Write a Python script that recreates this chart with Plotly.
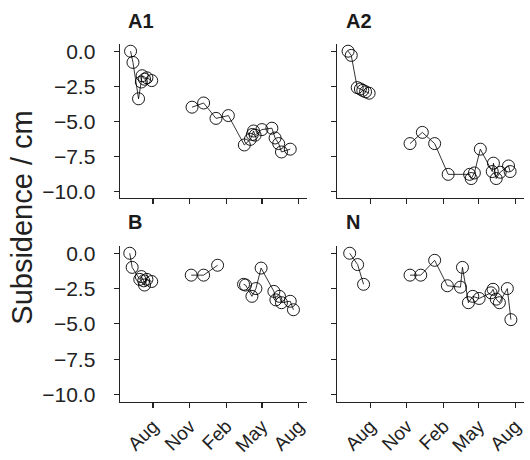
import plotly.graph_objects as go

# ---- data (None = break in campaign) ----
a1_dates = ["2016-06-06", "2016-06-12", "2016-06-26", "2016-07-03", "2016-07-05", "2016-07-11",
            "2016-07-17", "2016-07-29", None,
            "2016-11-07", "2016-12-06", "2017-01-06", "2017-02-06", "2017-03-18", "2017-04-02",
            "2017-04-07", "2017-04-10", "2017-04-14", "2017-05-01", "2017-05-26", "2017-06-03",
            "2017-06-12", "2017-06-19", "2017-07-11"]
a1_vals = [0.0, -0.8, -3.4, -2.2, -1.75, -2.0, -1.9, -2.1, None,
           -4.0, -3.7, -4.8, -4.6, -6.7, -6.3, -5.95, -5.7, -6.0, -5.6, -5.5, -6.2,
           -6.6, -7.2, -7.0]

a2_dates = ["2016-06-06", "2016-06-14", "2016-06-29", "2016-07-07", "2016-07-13", "2016-07-20",
            "2016-07-29", None,
            "2016-11-09", "2016-12-10", "2017-01-10", "2017-02-13", "2017-04-08", "2017-04-12",
            "2017-04-20", "2017-05-05", "2017-06-04", "2017-06-07", "2017-06-14", "2017-06-24",
            "2017-07-15", "2017-07-19"]
a2_vals = [0.0, -0.3, -2.6, -2.7, -2.8, -2.9, -3.0, None,
           -6.6, -5.8, -6.6, -8.8, -8.8, -9.1, -8.7, -7.0, -8.6, -8.0, -9.1, -8.65,
           -8.2, -8.6]

b_dates = ["2016-06-04", "2016-06-10", "2016-06-29", "2016-07-03", "2016-07-09", "2016-07-11",
           "2016-07-17", "2016-07-29", None,
           "2016-11-05", "2016-12-06", "2017-01-10", None,
           "2017-03-16", "2017-03-21", "2017-04-06", "2017-04-16", "2017-04-29", "2017-05-31",
           "2017-06-05", "2017-06-14", "2017-06-19", "2017-07-11", "2017-07-19"]
b_vals = [0.0, -1.0, -1.85, -1.65, -1.95, -2.25, -1.85, -2.0, None,
          -1.55, -1.55, -0.85, None,
          -2.2, -2.25, -3.05, -2.5, -1.05, -2.7, -3.3, -3.05, -3.5, -3.4, -4.0]

n_dates = ["2016-06-10", "2016-06-30", "2016-07-15", None,
           "2016-11-09", "2016-12-06", "2017-01-10", "2017-02-11", "2017-03-16", "2017-03-21",
           "2017-04-05", "2017-04-16", "2017-05-02", "2017-06-01", "2017-06-06", "2017-06-14",
           "2017-06-22", "2017-07-12", "2017-07-21"]
n_vals = [0.0, -0.8, -2.2, None,
          -1.55, -1.55, -0.5, -2.3, -2.4, -1.0, -3.5, -3.05, -3.2, -2.8, -2.55, -3.25,
          -3.5, -2.5, -4.7]

panels = ["A1", "A2", "B", "N"]
series = [(a1_dates, a1_vals), (a2_dates, a2_vals), (b_dates, b_vals), (n_dates, n_vals)]

x_tickvals = ["2016-08-01", "2016-11-01", "2017-02-01", "2017-05-01", "2017-08-01"]
x_ticktext = ["Aug", "Nov", "Feb", "May", "Aug"]
y_tickvals = [0.0, -2.5, -5.0, -7.5, -10.0]
y_ticktext = ["0.0", "\u22122.5", "\u22125.0", "\u22127.5", "\u221210.0"]

W, H = 530, 460
xdom = [[120 / W, 308 / W], [338 / W, 525 / W]]
ydom = [[1 - 197 / H, 1 - 40 / H], [1 - 404.5 / H, 1 - 246 / H]]

FONT = "Liberation Sans, Arial, Helvetica, sans-serif"
fig = go.Figure()

for i, (name, (d, v)) in enumerate(zip(panels, series)):
    row, col = divmod(i, 2)
    idx = "" if i == 0 else str(i + 1)
    fig.add_trace(go.Scatter(
        x=d, y=v, mode="lines+markers",
        xaxis="x" + idx, yaxis="y" + idx,
        line=dict(color="black", width=0.8),
        marker=dict(symbol="circle-open", size=12, color="black", line=dict(width=0.9)),
        connectgaps=False, showlegend=False, hoverinfo="skip", cliponaxis=False))

    xa = dict(domain=xdom[col], anchor="y" + idx, type="date",
              range=["2016-05-10", "2017-08-23"],
              tickmode="array", tickvals=x_tickvals, ticktext=x_ticktext,
              showticklabels=(row == 1), tickangle=-45,
              ticks="outside", ticklen=5, tickwidth=1.2, tickcolor="#222",
              showline=True, linecolor="#222", linewidth=1.2,
              showgrid=False, zeroline=False,
              tickfont=dict(family=FONT, size=19, color="#222"))
    ya = dict(domain=ydom[row], anchor="x" + idx, range=[-10.5, 0.5],
              tickmode="array", tickvals=y_tickvals, ticktext=y_ticktext,
              showticklabels=(col == 0),
              ticks="outside", ticklen=5, tickwidth=1.2, tickcolor="#222",
              showline=True, linecolor="#222", linewidth=1.2,
              showgrid=False, zeroline=False, ticklabelstandoff=14,
              tickfont=dict(family=FONT, size=21, color="#222"))
    fig.layout["xaxis" + idx] = xa
    fig.layout["yaxis" + idx] = ya

    fig.add_annotation(text="<b>%s</b>" % name, xref="paper", yref="paper",
                       x=(127 if col == 0 else 345.5) / W,
                       y=1 - (4 if row == 0 else 209) / H,
                       xanchor="left", yanchor="top", showarrow=False, borderpad=0,
                       font=dict(family=FONT, size=20, color="#1a1a1a"))

fig.add_annotation(text="Subsidence / cm", xref="paper", yref="paper",
                   x=22 / W, y=1 - 217 / H, textangle=-90,
                   xanchor="center", yanchor="middle", showarrow=False,
                   font=dict(family=FONT, size=29, color="#222"))

fig.update_layout(width=W, height=H, margin=dict(l=0, r=0, t=0, b=0),
                  paper_bgcolor="white", plot_bgcolor="white")

fig.write_html("out.html", config={"displayModeBar": False, "staticPlot": True},
               post_script="document.body.style.margin='0';document.body.style.overflow='hidden';")
